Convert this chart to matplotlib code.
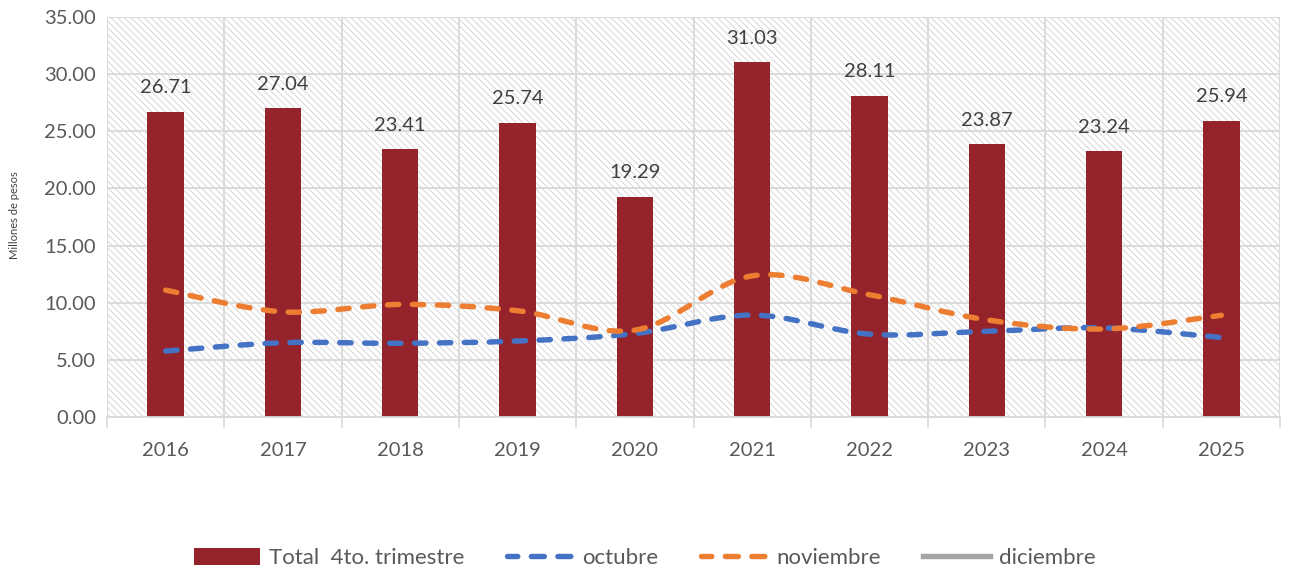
import matplotlib
matplotlib.use("Agg")
import matplotlib.pyplot as plt
from matplotlib.path import Path
from matplotlib.patches import PathPatch, Rectangle
from matplotlib.lines import Line2D
import numpy as np

years = ["2016", "2017", "2018", "2019", "2020", "2021", "2022", "2023", "2024", "2025"]
total_4to = [26.71, 27.04, 23.41, 25.74, 19.29, 31.03, 28.11, 23.87, 23.24, 25.94]
octubre = [5.77, 6.50, 6.45, 6.65, 7.30, 8.92, 7.25, 7.50, 7.80, 6.95]
noviembre = [11.10, 9.20, 9.85, 9.30, 7.60, 12.35, 10.70, 8.50, 7.70, 8.90]
diciembre = []
yticks = [0, 5, 10, 15, 20, 25, 30, 35]

plt.rcParams['font.family'] = ['Lato', 'DejaVu Sans']
plt.rcParams['hatch.linewidth'] = 0.6

fig = plt.figure(figsize=(12.89, 5.71), dpi=100)
ax = fig.add_axes([107/1289, 1 - 417/571, (1280-107)/1289, 400/571])

bar_color = '#95232C'
blue = '#4472C4'
orange = '#ED7D31'
gray = '#A5A5A5'

x = np.arange(len(years))

bg = Rectangle((0, 0), 1, 1, transform=ax.transAxes, facecolor='white',
               edgecolor='#CFCFCF', hatch='\\\\\\\\\\', linewidth=0, zorder=0)
ax.add_patch(bg)

ax.bar(x, total_4to, width=0.31, color=bar_color, zorder=2)
for xi, v in zip(x, total_4to):
    ax.text(xi, v + 1.35, f"{v:.2f}", ha='center', va='bottom', fontsize=14.5,
            color='#404040', zorder=5)


def smooth_path(xs, ys):
    pts = np.column_stack([xs, ys]).astype(float)
    n = len(pts)
    verts = [pts[0]]
    codes = [Path.MOVETO]
    for i in range(n - 1):
        p0 = pts[i - 1] if i > 0 else pts[i]
        p1 = pts[i]
        p2 = pts[i + 1]
        p3 = pts[i + 2] if i + 2 < n else pts[i + 1]
        c1 = p1 + (p2 - p0) / 6.0
        c2 = p2 - (p3 - p1) / 6.0
        verts += [c1, c2, p2]
        codes += [Path.CURVE4] * 3
    return Path(verts, codes)


dash = (0, (2.1, 2.5))
for series, col in [(octubre, blue), (noviembre, orange)]:
    pp = PathPatch(smooth_path(x, series), facecolor='none', edgecolor=col,
                   linewidth=3.9, linestyle=dash, capstyle='round', zorder=3)
    ax.add_patch(pp)

ax.plot([], [], color=gray, linewidth=3)  # diciembre (sin datos)

ax.set_xlim(-0.5, len(years) - 0.5)
ax.set_ylim(0, 35)
ax.set_yticks(yticks)
ax.set_yticklabels([f"{t:.2f}" for t in yticks])
ax.set_xticks(np.arange(-0.5, len(years), 1.0))
ax.set_xticklabels([])
ax.set_xticks(x, minor=True)
ax.set_xticklabels(years, minor=True)
ax.tick_params(axis='x', which='major', length=8, color='#D9D9D9', width=1.2)
ax.tick_params(axis='x', which='minor', length=0, pad=18, labelsize=14.5, labelcolor='#595959')
ax.tick_params(axis='y', length=0, pad=8, labelsize=14.5, labelcolor='#595959')

ax.grid(True, which='major', color='#D9D9D9', linewidth=1.3)
ax.set_axisbelow(True)
for s in ['top', 'right', 'left']:
    ax.spines[s].set_visible(False)
ax.spines['bottom'].set_color('#D9D9D9')
ax.spines['bottom'].set_linewidth(1.3)

fig.text(14/1289, 1 - 215/571, "Millones de pesos", rotation=90, fontsize=8,
         color='#404040', ha='center', va='center')

leg_dash = (0.5, (2.4, 2.5))
handles = [
    Rectangle((0, 0), 1, 1, facecolor=bar_color, edgecolor='none'),
    Line2D([], [], color=blue, linewidth=3.9, linestyle=leg_dash, dash_capstyle='round'),
    Line2D([], [], color=orange, linewidth=3.9, linestyle=leg_dash, dash_capstyle='round'),
    Line2D([], [], color=gray, linewidth=3.9),
]
labels = ["Total  4to. trimestre", "octubre", "noviembre", "diciembre"]
fig.legend(handles, labels, loc='center', bbox_to_anchor=(0.5, 1 - 558/571), ncol=4,
           frameon=False, fontsize=16, handlelength=3.0, handleheight=0.8,
           handletextpad=0.4, columnspacing=1.9, labelcolor='#595959', borderaxespad=0)

fig.savefig("out.png", dpi=100)
